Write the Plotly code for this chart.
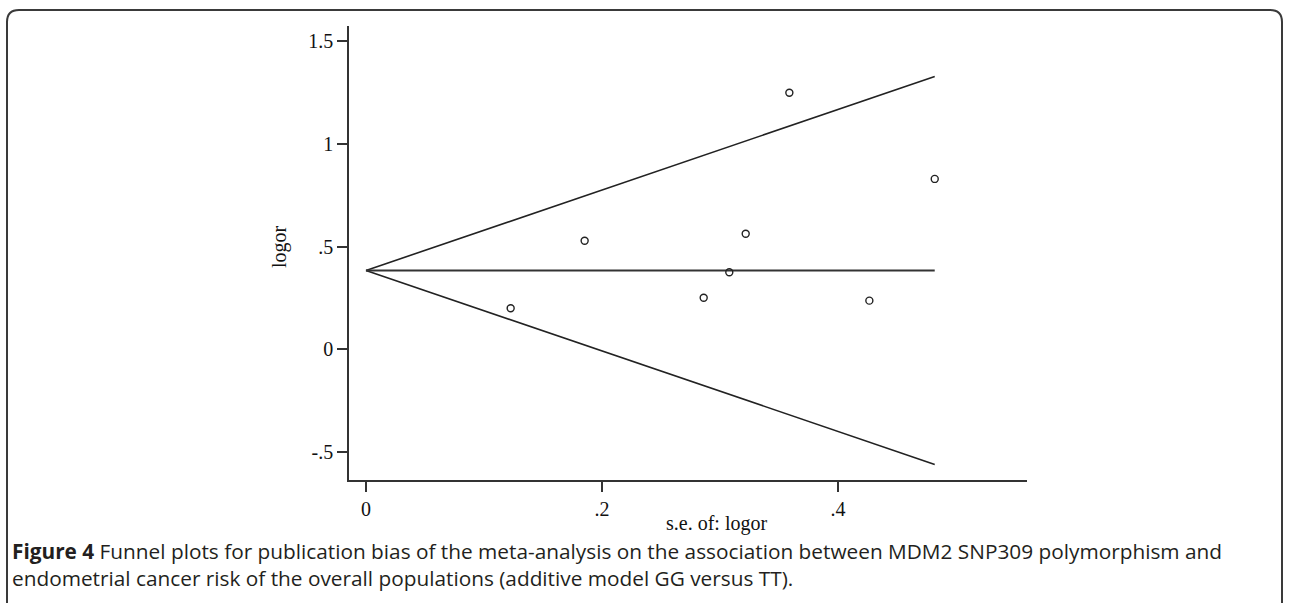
import plotly.graph_objects as go

# ---- data ----
se_logor = [0.1226, 0.1853, 0.2862, 0.3079, 0.3218, 0.3588, 0.4266, 0.4820]
logor = [0.200, 0.529, 0.251, 0.375, 0.563, 1.250, 0.237, 0.830]
pooled_logor = 0.384
se_max = 0.482
x_ticks = [0, 0.2, 0.4]
x_tick_text = ["0", ".2", ".4"]
y_ticks = [-0.5, 0, 0.5, 1, 1.5]
y_tick_text = ["-.5", "0", ".5", "1", "1.5"]

W, H = 1289, 603
L, R, T, B = 349, 1027, 26, 480  # plot area in pixels


def px(x):
    return (x - L) / (R - L)


def py(y):
    return (B - y) / (B - T)


fig = go.Figure()

line_style = dict(color="#222222", width=1.6)
# pseudo 95% confidence limits
fig.add_trace(go.Scatter(x=[0, se_max], y=[pooled_logor, pooled_logor + 1.96 * se_max],
                         mode="lines", line=line_style, hoverinfo="skip"))
fig.add_trace(go.Scatter(x=[0, se_max], y=[pooled_logor, pooled_logor - 1.96 * se_max],
                         mode="lines", line=line_style, hoverinfo="skip"))
fig.add_trace(go.Scatter(x=[0, se_max], y=[pooled_logor, pooled_logor],
                         mode="lines", line=dict(color="#333333", width=2), hoverinfo="skip"))
fig.add_trace(go.Scatter(x=se_logor, y=logor, mode="markers",
                         marker=dict(symbol="circle-open", size=7, color="#222222",
                                     line=dict(width=1.4, color="#222222"))))

serif = "Liberation Serif"
fig.update_layout(
    width=W, height=H,
    margin=dict(l=L, r=W - R, t=T, b=H - B, pad=0),
    paper_bgcolor="white", plot_bgcolor="white",
    showlegend=False,
    xaxis=dict(range=[-0.0144, 0.5602], tickvals=x_ticks, ticktext=x_tick_text,
               showgrid=False, zeroline=False, showline=True, linecolor="#333333",
               linewidth=1.6, ticks="outside", ticklen=10, tickwidth=1.6,
               tickcolor="#333333", tickfont=dict(family=serif, size=20, color="#111111")),
    yaxis=dict(range=[-0.6366, 1.5748], tickvals=y_ticks, ticktext=y_tick_text,
               showgrid=False, zeroline=False, showline=True, linecolor="#333333",
               linewidth=1.6, ticks="outside", ticklen=10, tickwidth=1.6,
               tickcolor="#333333", tickfont=dict(family=serif, size=20, color="#111111")),
)

# axis titles
fig.add_annotation(text="s.e. of: logor", xref="paper", yref="paper",
                   x=px(716), y=py(523), xanchor="center", yanchor="middle",
                   showarrow=False, font=dict(family=serif, size=20, color="#111111"))
fig.add_annotation(text="logor", xref="paper", yref="paper", textangle=-90,
                   x=px(279), y=py(247), xanchor="center", yanchor="middle",
                   showarrow=False, font=dict(family=serif, size=20, color="#111111"))

# caption (one text block, two lines)
cap_font = dict(family="Open Sans", size=20.8, color="#231f20")
fig.add_annotation(
    text="<b>Figure 4</b> Funnel plots for publication bias of the meta-analysis on the association between MDM2 SNP309 polymorphism and"
         "<br>endometrial cancer risk of the overall populations (additive model GG versus TT).",
    xref="paper", yref="paper", x=px(10), y=py(564), xanchor="left", yanchor="middle",
    align="left", showarrow=False, font=cap_font)

# rounded border box
x0, y0, x1, y1, r = 7, 10, 1282, 640, 12
path = (f"M {px(x0)},{py(y1)} L {px(x0)},{py(y0 + r)} "
        f"Q {px(x0)},{py(y0)} {px(x0 + r)},{py(y0)} "
        f"L {px(x1 - r)},{py(y0)} Q {px(x1)},{py(y0)} {px(x1)},{py(y0 + r)} "
        f"L {px(x1)},{py(y1)}")
fig.add_shape(type="path", path=path, xref="paper", yref="paper",
              line=dict(color="#3a3a3a", width=2), layer="above")

fig.write_html("out.html", config={"displayModeBar": False},
               post_script="document.body.style.margin='0';document.body.style.overflow='hidden';")
